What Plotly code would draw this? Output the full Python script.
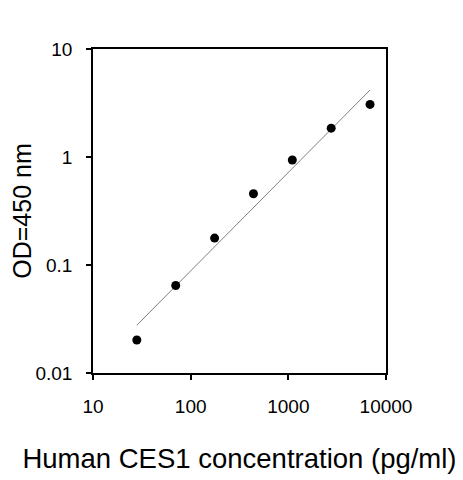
import plotly.graph_objects as go

# standard curve
conc = [28.1, 70.3, 175.8, 439.5, 1098.6, 2746.6, 6866.4]
od = [0.0202, 0.0646, 0.1775, 0.457, 0.938, 1.85, 3.07]

# fitted line end points
fit_x = [28.1, 6866.4]
fit_y = [0.0277, 4.17]

x_ticks = [10, 100, 1000, 10000]
x_labels = ['10', '100', '1000', '10000']
y_ticks = [0.01, 0.1, 1, 10]
y_labels = ['0.01', '0.1', '1', '10']

font = 'Liberation Sans, Arial, sans-serif'

fig = go.Figure()
fig.add_trace(go.Scatter(x=fit_x, y=fit_y, mode='lines',
                         line=dict(color='#808080', width=1), hoverinfo='skip'))
fig.add_trace(go.Scatter(x=conc, y=od, mode='markers',
                         marker=dict(color='black', size=9)))

axis_common = dict(type='log', showgrid=False, zeroline=False, automargin=False,
                   showline=True, linecolor='black', linewidth=1.5, mirror=True,
                   ticks='outside', ticklen=5, tickwidth=1.5, tickcolor='black',
                   tickfont=dict(family=font, size=19, color='black'))

fig.update_xaxes(range=[1, 4], tickvals=x_ticks, ticktext=x_labels,
                 ticklabelstandoff=10,
                 title=dict(text='Human CES1 concentration (pg/ml)', standoff=33,
                            font=dict(family=font, size=27.5, color='black')),
                 **axis_common)
fig.update_yaxes(range=[-2, 1], tickvals=y_ticks, ticktext=y_labels,
                 ticklabelstandoff=10,
                 title=dict(text='OD=450 nm', standoff=14,
                            font=dict(family=font, size=25, color='black')),
                 **axis_common)

# the page adds an 8px offset, so the margins are shifted to compensate
fig.update_layout(width=463, height=480, showlegend=False,
                  margin=dict(l=85, r=85, t=41, b=115),
                  plot_bgcolor='white', paper_bgcolor='white')

fig.write_html('out.html')
